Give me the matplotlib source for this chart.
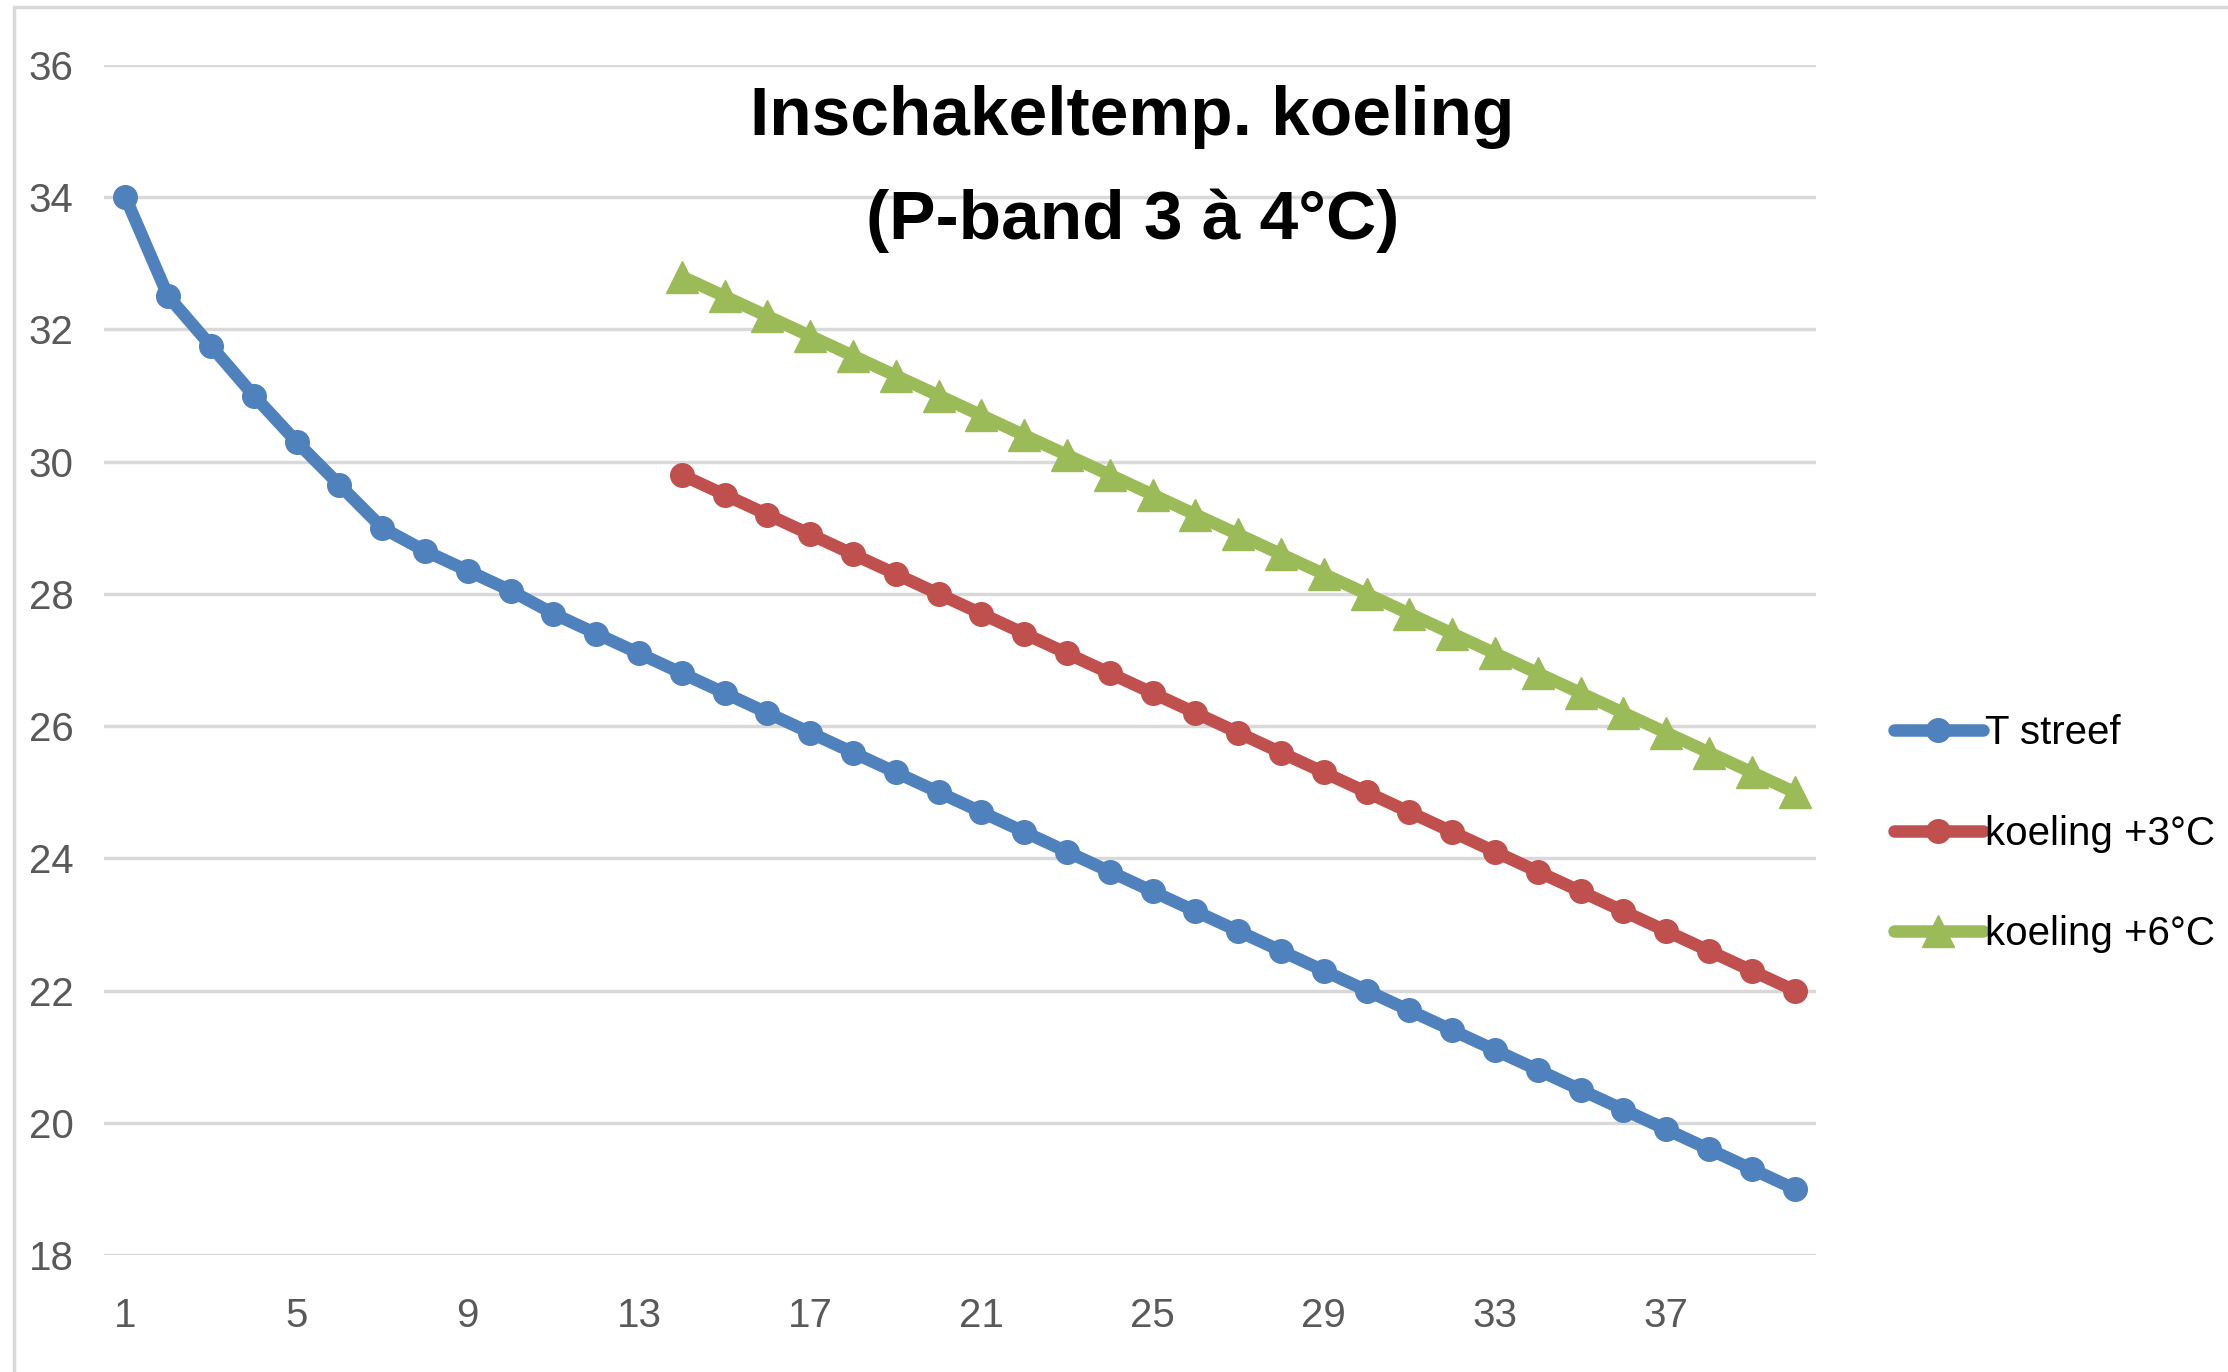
import matplotlib
matplotlib.use('Agg')
import matplotlib.pyplot as plt
from matplotlib.patches import Rectangle

plt.rcParams['font.family'] = ['Liberation Sans', 'DejaVu Sans']

# data
x_all = list(range(1, 41))
t_streef = [34.0, 32.5, 31.75, 31.0, 30.3, 29.65, 29.0, 28.65, 28.35, 28.05,
            27.7, 27.4, 27.1, 26.8, 26.5, 26.2, 25.9, 25.6, 25.3, 25.0,
            24.7, 24.4, 24.1, 23.8, 23.5, 23.2, 22.9, 22.6, 22.3, 22.0,
            21.7, 21.4, 21.1, 20.8, 20.5, 20.2, 19.9, 19.6, 19.3, 19.0]
x_koeling = list(range(14, 41))
koeling_3 = [29.8, 29.5, 29.2, 28.9, 28.6, 28.3, 28.0, 27.7, 27.4, 27.1,
             26.8, 26.5, 26.2, 25.9, 25.6, 25.3, 25.0, 24.7, 24.4, 24.1,
             23.8, 23.5, 23.2, 22.9, 22.6, 22.3, 22.0]
koeling_6 = [32.8, 32.5, 32.2, 31.9, 31.6, 31.3, 31.0, 30.7, 30.4, 30.1,
             29.8, 29.5, 29.2, 28.9, 28.6, 28.3, 28.0, 27.7, 27.4, 27.1,
             26.8, 26.5, 26.2, 25.9, 25.6, 25.3, 25.0]
series_labels = ['T streef', 'koeling +3°C', 'koeling +6°C']
colors = ['#4F81BD', '#C0504D', '#9BBB59']
x_ticks = [1, 5, 9, 13, 17, 21, 25, 29, 33, 37]
y_ticks = [18, 20, 22, 24, 26, 28, 30, 32, 34, 36]

W, H = 2228, 1372
fig = plt.figure(figsize=(W / 100, H / 100), dpi=100)
fig.patch.set_facecolor('white')

# light chart frame (cropped on right/bottom)
fig.patches.append(Rectangle((14 / W, -0.05), 1.2, 1 - 7 / H + 0.05, transform=fig.transFigure,
                             fill=False, edgecolor='#D9D9D9', linewidth=2.5))

ax = fig.add_axes([104 / W, 1 - 1255 / H, (1816 - 104) / W, (1255 - 65) / H])

ax.plot(x_all, t_streef, color=colors[0], lw=9, marker='o', ms=17,
        label=series_labels[0], solid_capstyle='round', zorder=3)
ax.plot(x_koeling, koeling_3, color=colors[1], lw=9, marker='o', ms=17,
        label=series_labels[1], solid_capstyle='round', zorder=3)
ax.plot(x_koeling, koeling_6, color=colors[2], lw=9, marker='^', ms=23,
        label=series_labels[2], solid_capstyle='round', zorder=3)

ax.set_xlim(0.5, 40.5)
ax.set_ylim(18, 36)
ax.set_xticks(x_ticks)
ax.set_yticks(y_ticks)
ax.tick_params(axis='both', length=0, labelsize=29, labelcolor='#595959')
ax.tick_params(axis='y', pad=22)
ax.tick_params(axis='x', pad=30)
for s in ax.spines.values():
    s.set_visible(False)
ax.grid(axis='y', color='#D9D9D9', lw=2.5, zorder=0)
ax.set_axisbelow(True)
ax.patch.set_alpha(0)

fig.text(797 / 1568, 1 - 119 / 966, 'Inschakeltemp. koeling\n(P-band 3 à 4°C)',
         ha='center', va='center', fontsize=50, fontweight='bold',
         linespacing=1.8, color='black')

fig.legend(loc='center left', bbox_to_anchor=(1333 / 1568, 1 - 587 / 966),
           frameon=False, fontsize=29, handlelength=2.2, handletextpad=0.05,
           labelspacing=1.55, borderpad=0, borderaxespad=0)

fig.savefig('out.png', dpi=100)
